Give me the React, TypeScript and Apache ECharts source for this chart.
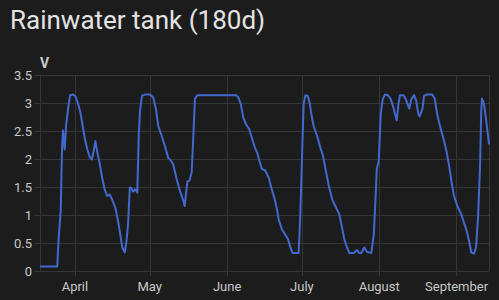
import { useEffect, useRef } from 'react';
import * as echarts from 'echarts';

const TITLE = 'Rainwater tank (180d)';
const UNIT = 'V';
const START = '2025-03-18T00:00:00';
const SPAN_DAYS = 180;
const MONTH_NAMES = ['January', 'February', 'March', 'April', 'May', 'June', 'July', 'August', 'September', 'October', 'November', 'December'];
const Y_TICKS = [0, 0.5, 1, 1.5, 2, 2.5, 3, 3.5];

// [days since START, volts]
const cycle1 = [
  [0, 0.08], [6.9, 0.08], [7.5, 0.6], [8.3, 1.07], [8.8, 2.14], [9.2, 2.51], [9.9, 2.17], [10.5, 2.62],
  [11.5, 2.98], [12.1, 3.14], [13.2, 3.15], [14.2, 3.12], [15.2, 3.0], [16.2, 2.83], [17.0, 2.62],
  [17.9, 2.38], [19.0, 2.17], [19.9, 2.04], [20.8, 1.99], [21.4, 2.11], [22.2, 2.32], [23.0, 2.11],
  [23.9, 1.93], [24.9, 1.67], [25.9, 1.46], [26.9, 1.34], [27.9, 1.37], [28.9, 1.28], [30.2, 1.13],
  [31.3, 0.89], [32.2, 0.65], [33.0, 0.42], [34.0, 0.33], [34.6, 0.51], [35.3, 0.83], [36.0, 1.49],
  [36.6, 1.48], [37.3, 1.42], [38.2, 1.46], [39.0, 1.4], [39.6, 2.44], [40.1, 2.86], [40.9, 3.13],
  [42.0, 3.15],
];
const cycle2 = [
  [44.1, 3.15], [45.4, 3.1], [46.5, 2.89], [47.4, 2.59], [48.8, 2.41], [50.1, 2.23], [51.4, 2.02],
  [52.4, 1.98], [53.4, 1.9], [54.8, 1.64], [56.1, 1.43], [57.5, 1.25], [58.0, 1.16], [58.5, 1.37],
  [59.1, 1.6], [59.9, 1.61], [60.8, 1.76], [61.5, 2.44], [62.1, 3.07], [63.1, 3.14], [78.6, 3.14],
];
const cycle3 = [
  [79.5, 3.1], [80.5, 2.98], [81.5, 2.74], [82.6, 2.62], [83.9, 2.53], [84.9, 2.38], [86.2, 2.2],
  [87.1, 2.11], [88.2, 1.93], [89.0, 1.82], [90.2, 1.8], [91.7, 1.67], [92.7, 1.49], [94.1, 1.28],
  [95.0, 1.1], [95.7, 0.92], [97.0, 0.74], [98.6, 0.63], [99.4, 0.57], [100.4, 0.42], [101.3, 0.32],
  [103.7, 0.32], [104.4, 1.07], [105.1, 2.14], [105.7, 2.98], [106.4, 3.14], [107.3, 3.13],
];
const cycle4 = [
  [108.1, 3.0], [108.8, 2.8], [109.7, 2.59], [111.1, 2.41], [112.4, 2.2], [113.5, 2.05], [114.7, 1.76],
  [115.8, 1.52], [117.1, 1.28], [118.4, 1.16], [120.0, 1.01], [121.1, 0.77], [122.0, 0.57], [123.1, 0.42],
  [124.0, 0.32], [125.8, 0.32], [127.1, 0.375], [128.0, 0.32], [128.8, 0.32], [130.0, 0.42], [131.1, 0.34],
  [132.8, 0.32], [133.8, 0.65], [134.6, 1.37], [135.0, 1.82], [135.8, 1.96], [136.6, 2.8], [137.4, 3.07],
  [138.3, 3.15], [139.5, 3.14],
];
const cycle5 = [
  [140.6, 3.07], [141.7, 2.92], [142.3, 2.81], [143.0, 2.69], [143.7, 2.98], [144.3, 3.14], [145.7, 3.14],
  [146.6, 3.07], [148.0, 2.9], [148.9, 3.07], [150.0, 3.14], [150.8, 3.04], [151.7, 2.8], [152.2, 2.76],
  [153.3, 2.89], [154.0, 3.13], [155.0, 3.15], [157.3, 3.15],
];
const cycle6 = [
  [158.3, 3.07], [159.1, 2.83], [160.0, 2.65], [160.9, 2.5], [162.0, 2.32], [163.1, 2.11], [164.0, 1.88],
  [164.9, 1.61], [166.0, 1.34], [167.3, 1.16], [168.9, 1.01], [170.0, 0.86], [171.1, 0.71], [172.0, 0.54],
  [172.9, 0.33], [174.0, 0.31], [174.8, 0.42], [175.6, 0.95], [176.4, 1.85], [176.9, 2.86], [177.2, 3.08],
  [178.0, 2.98], [178.9, 2.68], [180.0, 2.26],
];

const DAY = 86400000;

export default function App() {
  const ref = useRef<HTMLDivElement>(null);
  useEffect(() => {
    if (!ref.current) return;
    const chart = echarts.init(ref.current, null, { renderer: 'svg' });
    const start = new Date(START).getTime();
    const end = start + SPAN_DAYS * DAY;
    const readings = [...cycle1, ...cycle2, ...cycle3, ...cycle4, ...cycle5, ...cycle6];
    const data = readings.map(([d, v]) => [start + d * DAY, v]);
    const labelColor = '#c9c9c9';
    const gridColor = '#353535';
    chart.setOption({
      animation: false,
      backgroundColor: '#1c1c1c',
      textStyle: { fontFamily: 'Roboto' },
      title: {
        text: TITLE,
        left: 10,
        top: 7,
        padding: 0,
        textStyle: { fontSize: 26, fontWeight: 400, color: '#e3e3e3', fontFamily: 'Roboto' },
      },
      grid: { left: 40, right: 10, top: 75, bottom: 29 },
      xAxis: {
        type: 'time',
        min: start,
        max: end,
        minInterval: 28 * DAY,
        axisLine: { show: true, lineStyle: { color: gridColor } },
        axisTick: { show: true, length: 5, lineStyle: { color: gridColor } },
        splitLine: { show: true, lineStyle: { color: gridColor } },
        axisLabel: {
          color: labelColor,
          fontSize: 13,
          fontFamily: 'Roboto',
          margin: 9,
          showMinLabel: false,
          showMaxLabel: false,
          formatter: (v: number) => {
            const d = new Date(v);
            return d.getDate() === 1 && d.getHours() === 0 ? MONTH_NAMES[d.getMonth()] : '';
          },
        },
      },
      yAxis: {
        type: 'value',
        min: Y_TICKS[0],
        max: Y_TICKS[Y_TICKS.length - 1],
        interval: Y_TICKS[1] - Y_TICKS[0],
        name: UNIT,
        nameLocation: 'end',
        nameGap: 5,
        nameTextStyle: { color: labelColor, fontSize: 14, fontWeight: 'bold', fontFamily: 'Roboto', align: 'left' },
        axisLine: { show: true, lineStyle: { color: gridColor } },
        axisTick: { show: true, length: 5, lineStyle: { color: gridColor } },
        splitLine: { show: true, lineStyle: { color: gridColor } },
        axisLabel: { color: labelColor, fontSize: 13, fontFamily: 'Roboto', margin: 8 },
      },
      series: [
        {
          type: 'line',
          data,
          showSymbol: false,
          lineStyle: { color: '#4269d0', width: 2, join: 'round' },
          itemStyle: { color: '#4269d0' },
        },
      ],
    });
    return () => chart.dispose();
  }, []);
  return (
    <div style={{ position: 'fixed', left: 0, top: 0, width: 499, height: 300, background: '#1c1c1c' }}>
      <div ref={ref} style={{ width: 499, height: 300 }} />
    </div>
  );
}
